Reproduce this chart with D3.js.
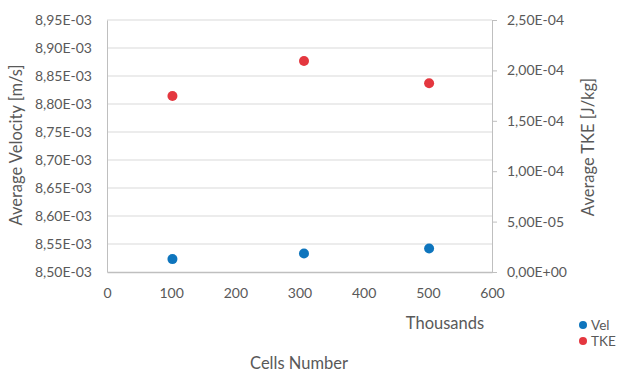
<!DOCTYPE html>
<html>
<head>
<meta charset="utf-8">
<script src="https://cdn.jsdelivr.net/npm/d3@7"></script>
<style>
  body { margin: 0; background: #fff; }
  text { font-family: Lato, "Open Sans", sans-serif; fill: #595959; }
</style>
</head>
<body>
<div id="chart"></div>
<script>
// data
let cells = [102, 307, 502];           // thousands
let vel = [8.523e-3, 8.533e-3, 8.542e-3];
let tke = [1.746e-4, 2.093e-4, 1.872e-4];
let xTicks = [0, 100, 200, 300, 400, 500, 600];
let velTicks = [8.50e-3, 8.55e-3, 8.60e-3, 8.65e-3, 8.70e-3, 8.75e-3, 8.80e-3, 8.85e-3, 8.90e-3, 8.95e-3];
let tkeTicks = [0, 5e-5, 1e-4, 1.5e-4, 2e-4, 2.5e-4];

let svgWidth = 618;
let svgHeight = 373;
let margin = { top: 20, right: 126, bottom: 101, left: 107 };
let width = svgWidth - margin.left - margin.right;
let height = svgHeight - margin.top - margin.bottom;

let blue = '#0e75bd';
let red = '#e4373f';

let svg = d3.select('#chart')
    .append('svg')
    .attr('width', svgWidth)
    .attr('height', svgHeight);

let g = svg.append('g')
    .attr('transform', `translate(${margin.left},${margin.top})`);

let x = d3.scaleLinear().domain([0, 600]).range([0, width]);
let yL = d3.scaleLinear().domain([8.50e-3, 8.95e-3]).range([height, 0]);
let yR = d3.scaleLinear().domain([0, 2.5e-4]).range([height, 0]);

// excel style numbers with comma decimal
function sci(v) {
    let s = v.toExponential(2).replace('.', ',');
    let parts = s.split('e');
    let exp = parseInt(parts[1]);
    let sign = exp < 0 ? '-' : '+';
    return parts[0] + 'E' + sign + String(Math.abs(exp)).padStart(2, '0');
}

// gridlines
g.append('g')
    .selectAll('line')
    .data(velTicks.slice(1))
    .enter()
    .append('line')
    .attr('x1', 0)
    .attr('x2', width)
    .attr('y1', d => yL(d))
    .attr('y2', d => yL(d))
    .attr('stroke', '#d9d9d9')
    .attr('stroke-width', 1);

// left axis
let leftAxis = g.append('g')
    .call(d3.axisLeft(yL).tickValues(velTicks).tickSize(0).tickPadding(15).tickFormat(sci));
leftAxis.select('.domain').attr('stroke', '#bfbfbf');
leftAxis.selectAll('text').style('font-size', '14px').attr('fill', '#595959');

// right axis
let rightAxis = g.append('g')
    .attr('transform', `translate(${width},0)`)
    .call(d3.axisRight(yR).tickValues(tkeTicks).tickSize(5).tickPadding(10).tickFormat(sci));
rightAxis.selectAll('.domain, line').attr('stroke', '#bfbfbf');
rightAxis.selectAll('text').style('font-size', '14px').attr('fill', '#595959');

// bottom axis
let bottomAxis = g.append('g')
    .attr('transform', `translate(0,${height})`)
    .call(d3.axisBottom(x).tickValues(xTicks).tickSize(0).tickPadding(16));
bottomAxis.select('.domain').attr('stroke', '#bfbfbf').attr('stroke-width', 1.5);
bottomAxis.selectAll('text').style('font-size', '14px').attr('fill', '#595959');

// points
g.selectAll('circle.tke')
    .data(cells)
    .enter()
    .append('circle')
    .attr('class', 'tke')
    .attr('cx', d => x(d))
    .attr('cy', (d, i) => yR(tke[i]))
    .attr('r', 5)
    .attr('fill', red);

g.selectAll('circle.vel')
    .data(cells)
    .enter()
    .append('circle')
    .attr('class', 'vel')
    .attr('cx', d => x(d))
    .attr('cy', (d, i) => yL(vel[i]))
    .attr('r', 5)
    .attr('fill', blue);

// axis titles
svg.append('text')
    .attr('transform', `translate(22,145) rotate(-90)`)
    .attr('text-anchor', 'middle')
    .style('font-size', '16.5px')
    .text('Average Velocity [m/s]');

svg.append('text')
    .attr('transform', `translate(594,147) rotate(-90)`)
    .attr('text-anchor', 'middle')
    .style('font-size', '16.5px')
    .text('Average TKE [J/kg]');

svg.append('text')
    .attr('x', 445)
    .attr('y', 329)
    .attr('text-anchor', 'middle')
    .style('font-size', '16.5px')
    .text('Thousands');

svg.append('text')
    .attr('x', 299)
    .attr('y', 369)
    .attr('text-anchor', 'middle')
    .style('font-size', '16.5px')
    .text('Cells Number');

// legend
let legendNames = ['Vel', 'TKE'];
let legendColors = [blue, red];
let legend = svg.selectAll('g.legend')
    .data(legendNames)
    .enter()
    .append('g')
    .attr('class', 'legend')
    .attr('transform', (d, i) => `translate(583,${325 + i * 16})`);
legend.append('circle')
    .attr('r', 4)
    .attr('fill', (d, i) => legendColors[i]);
legend.append('text')
    .attr('x', 8)
    .attr('y', 5)
    .style('font-size', '13.5px')
    .text(d => d);
</script>
</body>
</html>
